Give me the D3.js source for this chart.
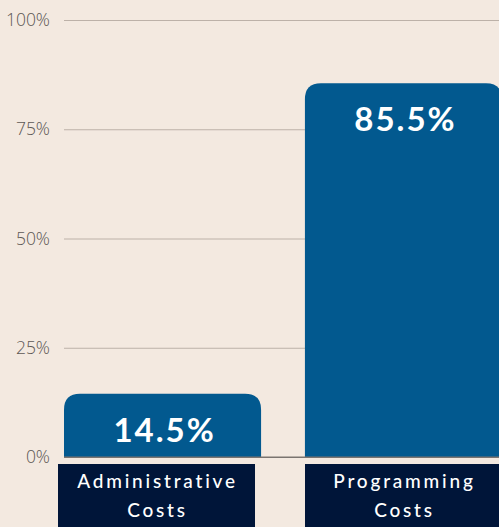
<!DOCTYPE html>
<html>
<head>
<meta charset="utf-8">
<script src="https://cdn.jsdelivr.net/npm/d3@7"></script>
<style>
  body { margin: 0; background: #F3E9E0; }
  svg { display: block; }
</style>
</head>
<body>
<div class="chart"></div>
<script>
// data
var categories = ["Administrative Costs", "Programming Costs"];
var labelLines = [["Administrative", "Costs"], ["Programming", "Costs"]];
var shares = [14.5, 85.5];
var tickValues = [0, 25, 50, 75, 100];

var svgWidth = 499;
var svgHeight = 527;

var svg = d3.select(".chart")
  .append("svg")
  .attr("width", svgWidth)
  .attr("height", svgHeight);

svg.append("rect")
  .attr("width", svgWidth)
  .attr("height", svgHeight)
  .attr("fill", "#F3E9E0");

// scales
var y = d3.scaleLinear().domain([0, 100]).range([457, 20]);
var x = d3.scaleBand().domain(categories).range([64, 502]).paddingInner(0.182).paddingOuter(0);
var xLabel = d3.scaleBand().domain(categories).range([58, 502]).paddingInner(0.2024).paddingOuter(0);

// gridlines + tick labels
var leftAxis = d3.axisLeft(y)
  .tickValues(tickValues)
  .tickSize(-(svgWidth - 64))
  .tickPadding(14)
  .tickFormat(function(d) { return d + "%"; });

var axisG = svg.append("g")
  .attr("transform", "translate(64,0)")
  .call(leftAxis);

axisG.select(".domain").remove();
axisG.selectAll(".tick line")
  .attr("stroke", function(d) { return d === 0 ? "#7a7470" : "#bcb1a8"; })
  .attr("stroke-width", 1);
axisG.selectAll(".tick text")
  .attr("x", -14)
  .attr("fill", "#5c5754")
  .style("font-family", "'Open Sans', sans-serif")
  .style("font-weight", 300)
  .style("font-size", "17.5px");

// rounded-top bar path
function barPath(x0, y0, w, h, r) {
  return "M" + x0 + "," + (y0 + h) +
    "V" + (y0 + r) +
    "Q" + x0 + "," + y0 + " " + (x0 + r) + "," + y0 +
    "H" + (x0 + w - r) +
    "Q" + (x0 + w) + "," + y0 + " " + (x0 + w) + "," + (y0 + r) +
    "V" + (y0 + h) + "Z";
}

var data = categories.map(function(c, i) {
  return { cat: c, value: shares[i], lines: labelLines[i] };
});

svg.selectAll(".bar")
  .data(data)
  .enter()
  .append("path")
  .attr("class", "bar")
  .attr("fill", "#02598F")
  .attr("d", function(d) {
    return barPath(x(d.cat), y(d.value), x.bandwidth(), y(0) - y(d.value), 16);
  });

// redraw baseline on top of bars
svg.append("line")
  .attr("x1", 64).attr("x2", svgWidth)
  .attr("y1", y(0)).attr("y2", y(0))
  .attr("stroke", "#7a7470")
  .attr("stroke-width", 1);

svg.selectAll(".value")
  .data(data)
  .enter()
  .append("text")
  .attr("class", "value")
  .attr("x", function(d) { return x(d.cat) + x.bandwidth() / 2 + 2; })
  .attr("y", function(d) { return y(d.value) + 48; })
  .attr("text-anchor", "middle")
  .attr("fill", "#ffffff")
  .style("font-family", "Lato, sans-serif")
  .style("font-weight", 700)
  .style("font-size", "33px")
  .style("letter-spacing", "2px")
  .text(function(d) { return d.value + "%"; });

// category label boxes
svg.selectAll(".labelBox")
  .data(data)
  .enter()
  .append("rect")
  .attr("class", "labelBox")
  .attr("x", function(d) { return xLabel(d.cat); })
  .attr("y", 464)
  .attr("width", xLabel.bandwidth())
  .attr("height", svgHeight - 464)
  .attr("fill", "#001539");

var labelText = svg.selectAll(".catLabel")
  .data(data)
  .enter()
  .append("text")
  .attr("class", "catLabel")
  .attr("text-anchor", "middle")
  .attr("fill", "#ffffff")
  .style("font-family", "Lato, sans-serif")
  .style("font-weight", 500)
  .style("font-size", "19px")
  .style("letter-spacing", "2.8px");

labelText.selectAll("tspan")
  .data(function(d) {
    return d.lines.map(function(l, i) { return { cat: d.cat, text: l, i: i }; });
  })
  .enter()
  .append("tspan")
  .attr("x", function(d) { return xLabel(d.cat) + xLabel.bandwidth() / 2 + 1; })
  .attr("y", function(d) { return 488 + d.i * 29; })
  .text(function(d) { return d.text; });
</script>
</body>
</html>
